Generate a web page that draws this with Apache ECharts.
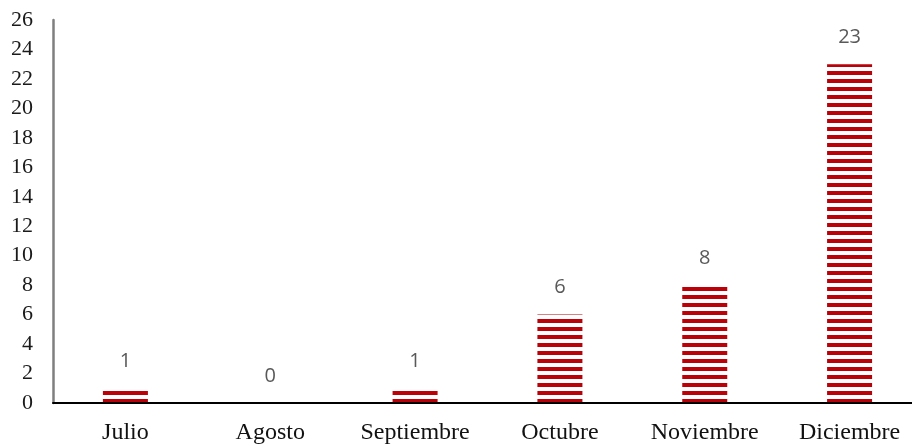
<!DOCTYPE html>
<html>
<head>
<meta charset="utf-8">
<script src="https://cdn.jsdelivr.net/npm/echarts@6/dist/echarts.min.js"></script>
<style>
  html, body { margin: 0; padding: 0; background: #ffffff; overflow: hidden; }
  #chart { width: 930px; height: 447px; }
</style>
</head>
<body>
<div id="chart"></div>
<script>
// Monthly counts
const months = ['Julio', 'Agosto', 'Septiembre', 'Octubre', 'Noviembre', 'Diciembre'];
const counts = [1, 0, 1, 6, 8, 23];
const yTicks = [0, 2, 4, 6, 8, 10, 12, 14, 16, 18, 20, 22, 24, 26];

// Horizontal red stripes used as the bar fill (8px period, 4px red)
function stripePattern() {
  const c = document.createElement('canvas');
  c.width = 8;
  c.height = 8;
  const g = c.getContext('2d');
  g.fillStyle = '#ffffff';
  g.fillRect(0, 0, 8, 8);
  g.fillStyle = '#bb0008';
  g.fillRect(0, 7, 8, 1);
  g.fillRect(0, 0, 8, 3);
  return c;
}

const chart = echarts.init(document.getElementById('chart'), null, { renderer: 'canvas' });

chart.setOption({
  animation: false,
  backgroundColor: '#ffffff',
  grid: { left: 53, top: 20, width: 869, height: 383, containLabel: false },
  xAxis: {
    type: 'category',
    data: months,
    axisLine: { show: true, lineStyle: { color: '#000000', width: 2 } },
    axisTick: { show: false },
    axisLabel: {
      margin: 18,
      fontFamily: 'Liberation Serif',
      fontSize: 24,
      color: '#111111'
    },
    z: 5
  },
  yAxis: {
    type: 'value',
    min: 0,
    max: yTicks[yTicks.length - 1],
    interval: 2,
    axisLine: { show: true, lineStyle: { color: '#7f7f7f', width: 2.5 } },
    axisTick: { show: false },
    splitLine: { show: false },
    axisLabel: {
      margin: 20,
      fontFamily: 'Liberation Serif',
      fontSize: 22,
      color: '#1a1a1a',
      formatter: v => (yTicks.includes(v) ? String(v) : '')
    }
  },
  series: [{
    type: 'bar',
    data: counts,
    barWidth: 45,
    itemStyle: {
      color: { image: stripePattern(), repeat: 'repeat' }
    },
    label: {
      show: true,
      position: 'top',
      distance: 17,
      fontFamily: 'Open Sans',
      fontSize: 20,
      color: '#595959'
    }
  }]
});
</script>
</body>
</html>
